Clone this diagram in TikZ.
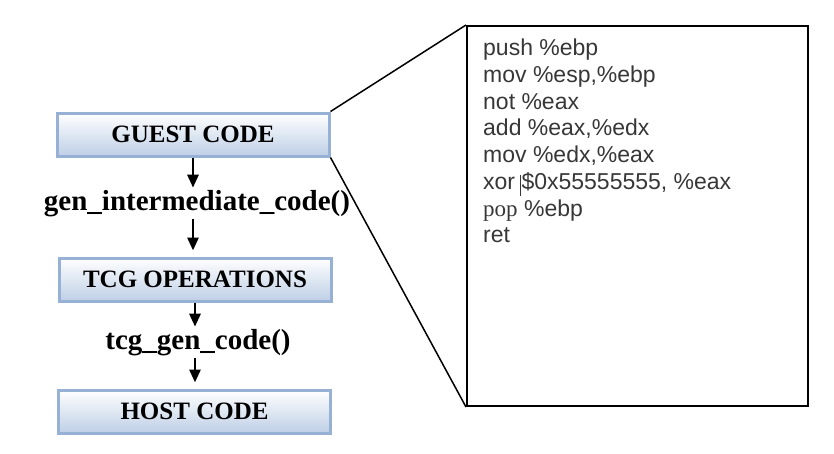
\documentclass[tikz,border=0pt]{standalone}
\usepackage{fontspec}
\setmainfont{Liberation Serif}
\newfontfamily\asmfont{Liberation Sans}
\usetikzlibrary{arrows.meta}
\definecolor{boxline}{RGB}{150,177,212}
\definecolor{boxfill}{RGB}{190,207,230}
\definecolor{asmgray}{RGB}{55,55,55}

\begin{document}
\begin{tikzpicture}[x=1pt, y=-1pt,
    stage/.style = {draw=boxline, line width=3pt, top color=white, bottom color=boxfill,
        minimum width=272pt, minimum height=43pt, font=\fontsize{25}{30}\selectfont\bfseries},
    call/.style = {inner sep=2pt, font=\fontsize{29}{34}\selectfont\bfseries},
    flow/.style = {line width=2.8pt, -{Triangle[width=11pt,length=13pt]}},
    zoomline/.style = {line width=1.5pt}]

    \useasboundingbox (0,0) rectangle (834,453);

    % Nodes
    \node[stage] (guest) at (193,134.5) {GUEST CODE};
    \node[call, anchor=base] (gen) at (197,210) {gen\_intermediate\_code()};
    \node[stage] (tcg) at (195,279.5) {TCG OPERATIONS};
    \node[call, anchor=base] (tcgcall) at (198,349) {tcg\_gen\_code()};
    \node[stage] (host) at (194.5,411.5) {HOST CODE};
    \node[draw, line width=2pt, minimum width=341pt, minimum height=380pt] (code) at (637.5,216) {};
    \node[anchor=north west, inner sep=0pt, align=left, text=asmgray,
        font=\asmfont\fontsize{23}{26.7}\selectfont] (asm)
        at ([xshift=17pt, yshift=-14pt]code.north west)
        {push \%ebp\\
         mov \%esp,\%ebp\\
         not \%eax\\
         add \%eax,\%edx\\
         mov \%edx,\%eax\\
         xor \makebox[0pt][r]{\rule[-7pt]{1pt}{21pt}\hspace{1pt}}\$0x55555555, \%eax\\
         {\rmfamily pop} \%ebp\\
         ret};

    % Edges
    \draw[flow] (guest.south) -- (guest.south |- gen.north);
    \draw[flow, shorten >=6pt] (guest.south |- gen.south) -- (guest.south |- tcg.north);
    \draw[flow] (tcg.south) -- (tcg.south |- tcgcall.north);
    \draw[flow, shorten >=6pt] (tcg.south |- tcgcall.south) -- (tcg.south |- host.north);
    \draw[zoomline] (guest.north east) -- (code.north west);
    \draw[zoomline] (guest.south east) -- (code.south west);

\end{tikzpicture}
\end{document}
